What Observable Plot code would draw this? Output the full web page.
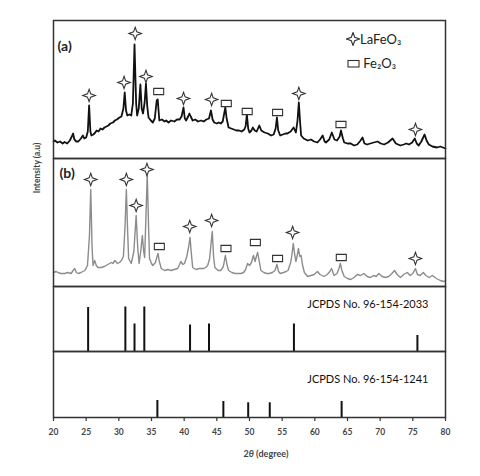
<!DOCTYPE html>
<html><head><meta charset="utf-8">
<script src="https://cdn.jsdelivr.net/npm/d3@7"></script>
<script src="https://cdn.jsdelivr.net/npm/@observablehq/plot@0.6"></script>
<style>
body{margin:0;background:#fff;font-family:Lato,"Open Sans",sans-serif;}
#chart{position:relative;width:480px;height:476px;overflow:hidden;background:#fff;}
.lab{position:absolute;white-space:nowrap;color:#222;}
</style></head><body><div id="chart"></div>
<script>
// ---- Data ----
const xDomain = [20, 80];
const xTicks = [20, 25, 30, 35, 40, 45, 50, 55, 60, 65, 70, 75, 80];

// (a) pattern: 2θ and intensity (a.u.)
const thetaA = [20.0,20.2,20.6,21.0,21.4,21.7,22.1,22.5,22.8,23.0,23.2,23.5,23.8,24.2,24.5,24.7,25.0,25.25,25.45,25.65,25.8,26.1,26.4,26.6,26.9,27.2,27.5,27.8,28.1,28.4,28.7,29.1,29.4,29.7,30.1,30.4,30.7,30.9,31.1,31.3,31.6,31.9,32.15,32.4,32.65,32.8,33.05,33.3,33.5,33.7,33.95,34.15,34.35,34.55,34.9,35.2,35.5,35.8,35.95,36.2,36.6,37.0,37.25,37.6,38.0,38.5,38.9,39.3,39.6,39.9,40.1,40.3,40.6,40.8,41.0,41.3,41.7,42.1,42.6,43.0,43.4,43.8,44.1,44.35,44.6,45.0,45.3,45.6,45.9,46.1,46.3,46.5,46.8,47.2,47.6,48.0,48.4,48.8,49.2,49.4,49.6,49.8,50.0,50.3,50.5,50.8,51.1,51.5,51.8,52.3,52.8,53.3,53.7,54.0,54.2,54.4,54.7,55.1,55.5,55.8,56.3,56.75,57.1,57.35,57.55,57.75,57.9,58.3,58.9,59.4,59.9,60.4,60.8,61.2,61.5,61.7,62.2,62.6,63.0,63.4,63.8,64.0,64.3,64.5,65.0,65.5,66.0,66.5,67.0,67.3,67.6,68.0,68.5,69.0,69.6,70.1,70.6,71.2,71.9,72.4,73.1,73.6,74.0,74.4,74.9,75.3,75.6,75.9,76.3,76.8,77.1,77.45,78.0,78.7,79.2,80.0];
const intA = [17,18,16,17,15,16.5,15,18,22,25,19,17,17,20,23,20,21,27,53,27,23,24,26,28,27,30,29,31,32,33,35,36,38,39,41,42,50,66,48,43,44,43,55,114,55,43,50,74,50,45,56,75,52,41,38,36,40,58,59,38,39,37,38,36,38,37,39,39,42,51,40,38,42,45,42,38,39,37,38,37,39,40,48,39,36,35,36,35,37,44,51,40,31,30,29,28,28,27,29,32,44,30,26,28,31,28,27,33,28,26,25,23,24,30,41,28,23,24,25,25,27,31,26,38,56,36,23,20,18,19,17,16,19,23,17,16,19,26,19,18,22,28,20,16,15,15,13,14,18,21,15,14,15,16,17,15,14,16,20,15,13,14,15,14,16,20,15,13,17,24,18,14,12,11,12,10];

// (b) pattern
const thetaB = [20.0,20.4,20.7,21.1,21.7,22.2,22.7,23.0,23.25,23.5,23.8,24.2,24.5,24.8,25.2,25.5,25.7,25.9,26.05,26.3,26.55,26.8,27.3,27.8,28.3,28.85,29.1,29.4,29.8,30.1,30.4,30.7,30.95,31.15,31.35,31.5,31.9,32.3,32.65,32.9,33.1,33.35,33.6,33.8,33.95,34.15,34.35,34.55,34.7,35.0,35.2,35.6,35.85,36.0,36.2,36.5,37.0,37.5,38.0,38.5,39.0,39.3,39.5,39.8,40.05,40.4,40.7,40.9,41.1,41.3,41.8,42.3,42.6,43.0,43.3,43.6,43.9,44.1,44.3,44.5,44.7,45.2,45.6,46.0,46.3,46.55,46.8,47.3,47.8,48.2,48.7,49.1,49.4,49.7,50.0,50.3,50.6,50.85,51.05,51.25,51.5,51.75,52.2,52.6,53.0,53.5,53.9,54.2,54.45,54.7,55.2,55.6,55.9,56.3,56.5,56.7,56.9,57.1,57.3,57.5,57.7,57.9,58.1,58.4,58.9,59.4,59.9,60.4,60.8,61.4,61.9,62.3,62.55,62.95,63.4,63.7,63.9,64.15,64.5,65.0,65.5,66.0,66.5,67.0,67.5,68.0,68.5,69.0,69.4,69.8,70.3,70.8,71.3,71.8,72.2,72.6,73.1,73.6,74.15,74.6,75.0,75.4,75.7,76.1,76.6,77.0,77.5,78.0,78.6,79.2,79.75,80.0];
const intB = [14,15,14,13,13,14,13,16,18,14,13,14,15,16,21,50,97,40,21,26,21,19,19,20,22,24,23,26,23,24,26,30,60,97,55,28,23,35,71,38,23,35,51,35,29,70,113,60,28,23,21,24,30,33,25,18,16,17,16,17,18,22,25,22,23,30,40,49,33,19,17,18,18,18,19,21,28,42,55,30,19,16,16,20,31,22,16,14,13,13,13,14,17,23,21,24,31,25,30,34,25,16,14,13,13,14,16,22,15,13,14,15,16,24,32,43,33,25,31,38,30,31,22,14,10,11,12,15,12,10,12,15,18,11,13,18,23,16,10,8,7,9,12,11,13,10,9,11,10,13,10,9,10,13,16,12,9,12,14,11,13,18,12,11,14,11,9,11,8,6,5,6];

// Phase markers (position above peaks)
const starAx = [25.45, 30.8, 32.5, 34.15, 39.9, 44.2, 57.55, 75.4];
const starAy = [63, 76, 125, 82, 60, 59, 65, 29];
const rectAx = [36.1, 46.45, 49.65, 54.3, 64.0];
const rectAy = [67, 55, 47, 46, 34];
const starBx = [25.7, 31.15, 32.65, 34.3, 40.85, 44.2, 56.6, 75.4];
const starBy = [107, 107, 81, 117, 60, 66, 54, 28];
const rectBx = [36.2, 46.4, 50.9, 54.3, 64.05];
const rectBy = [40, 38, 44, 28, 29];

// Reference lines
const refLaFeO3_theta = [25.3, 31.0, 32.4, 33.9, 40.9, 43.8, 56.8, 75.7];
const refLaFeO3_int = [44, 44.5, 27.5, 44.5, 26.5, 27.5, 27.5, 16];
const refFe2O3_theta = [35.9, 46.0, 49.8, 53.1, 64.1];
const refFe2O3_int = [17, 16, 14.7, 14.7, 16];

const panelLabels = ["(a)", "(b)"];
const refLabels = ["JCPDS No. 96-154-2033", "JCPDS No. 96-154-1241"];
const legendLabels = ["LaFeO₃", "Fe₂O₃"];

// ---- Symbols ----
const star4 = {draw(ctx, size) {
  const r = Math.sqrt(size / Math.PI), k = r * 0.26;
  ctx.moveTo(0, -r); ctx.lineTo(k, -k); ctx.lineTo(r, 0); ctx.lineTo(k, k);
  ctx.lineTo(0, r); ctx.lineTo(-k, k); ctx.lineTo(-r, 0); ctx.lineTo(-k, -k); ctx.closePath();
}};
const rectSym = {draw(ctx, size) {
  const r = Math.sqrt(size / Math.PI);
  ctx.rect(-r, -r * 0.62, 2 * r, 1.24 * r);
}};

const chart = document.getElementById("chart");
const frameStyle = {stroke: "#333", strokeWidth: 1.5};
const font = "Lato, 'Open Sans', sans-serif";

function panel({top, height, marginTop = 0, marginBottom = 0, yMax, marks, xAxis = false}) {
  const svg = Plot.plot({
    width: 480, height, marginLeft: 53, marginRight: 35, marginTop, marginBottom,
    x: {domain: xDomain, axis: null},
    y: {domain: [0, yMax], axis: null},
    style: {background: "transparent", overflow: "visible", fontFamily: font, color: "#333", fontWeight: xAxis ? "bold" : "normal"},
    marks: [
      ...marks,
      xAxis ? Plot.axisX({ticks: xTicks, tickSize: 4, tickPadding: 7, tickFormat: d => String(d), fontSize: 8.5, stroke: "#333", strokeWidth: 1.2, fill: "#444", label: null}) : null,
      Plot.frame(frameStyle)
    ]
  });
  svg.style.position = "absolute";
  svg.style.left = "0px";
  svg.style.top = top + "px";
  chart.append(svg);
}

function markers(sx, sy, rx, ry) {
  return [
    Plot.dot(sx, {x: sx, y: sy, symbol: star4, r: 6.2, stroke: "#333", strokeWidth: 1.1, fill: "white"}),
    Plot.dot(rx, {x: rx, y: ry, symbol: rectSym, r: 5, stroke: "#333", strokeWidth: 1.1, fill: "white"})
  ];
}

// (a)
panel({top: 0, height: 158, marginTop: 20, yMax: 138, marks: [
  Plot.lineY(intA, {x: thetaA, stroke: "#111", strokeWidth: 1.8}),
  ...markers(starAx, starAy, rectAx, rectAy),
  Plot.text([panelLabels[0]], {frameAnchor: "top-left", dx: 4, dy: 26, textAnchor: "start", lineAnchor: "middle", fontSize: 14, fontWeight: "bold", fill: "#222"})
]});
// (b)
panel({top: 158, height: 128, yMax: 128, marks: [
  Plot.lineY(intB, {x: thetaB, stroke: "#8c8c8c", strokeWidth: 1.4}),
  ...markers(starBx, starBy, rectBx, rectBy),
  Plot.text([panelLabels[1]], {frameAnchor: "top-left", dx: 6, dy: 15, textAnchor: "start", lineAnchor: "middle", fontSize: 14, fontWeight: "bold", fill: "#222"})
]});
// reference LaFeO3
panel({top: 286, height: 65, yMax: 65, marks: [
  Plot.ruleX(refLaFeO3_theta, {y1: 0, y2: refLaFeO3_int, stroke: "#111", strokeWidth: 2}),
  Plot.text([refLabels[0]], {frameAnchor: "top-right", dx: -17, dy: 18, textAnchor: "end", lineAnchor: "middle", fontSize: 11, fill: "#111"})
]});
// reference Fe2O3
panel({top: 351, height: 125, marginBottom: 59, yMax: 66, xAxis: true, marks: [
  Plot.ruleX(refFe2O3_theta, {y1: 0, y2: refFe2O3_int, stroke: "#111", strokeWidth: 2}),
  Plot.text([refLabels[1]], {frameAnchor: "top-right", dx: -17, dy: 28, textAnchor: "end", lineAnchor: "middle", fontSize: 11, fontWeight: "normal", fill: "#111"})
]});

// legend (HTML)
const legend = document.createElement("div");
legend.innerHTML =
  `<div class="lab" style="left:346px;top:31px;font-size:13px;line-height:16px;">
     <svg width="14" height="14" style="vertical-align:-2px"><path d="M7,0.5 L8.7,5.3 L13.5,7 L8.7,8.7 L7,13.5 L5.3,8.7 L0.5,7 L5.3,5.3 Z" fill="white" stroke="#333" stroke-width="1.1"/></svg>${legendLabels[0]}</div>
   <div class="lab" style="left:347px;top:55px;font-size:13px;line-height:16px;">
     <svg width="13" height="13" style="vertical-align:-2px"><rect x="1" y="3.5" width="11" height="6.5" fill="white" stroke="#333" stroke-width="1.1"/></svg> ${legendLabels[1]}</div>`;
chart.append(legend);

// y-axis title
const ylab = document.createElement("div");
ylab.className = "lab";
ylab.textContent = "Intensity (a.u)";
ylab.style.cssText += "left:37px;top:168px;font-size:8.5px;font-weight:bold;color:#444;transform:translate(-50%,-50%) rotate(-90deg);";
chart.append(ylab);

// x-axis title
const xlab = document.createElement("div");
xlab.className = "lab";
xlab.innerHTML = "2<i>θ</i> (degree)";
xlab.style.cssText += "left:266px;top:453px;font-size:9px;font-weight:bold;color:#444;transform:translate(-50%,-50%);";
chart.append(xlab);
</script></body></html>
